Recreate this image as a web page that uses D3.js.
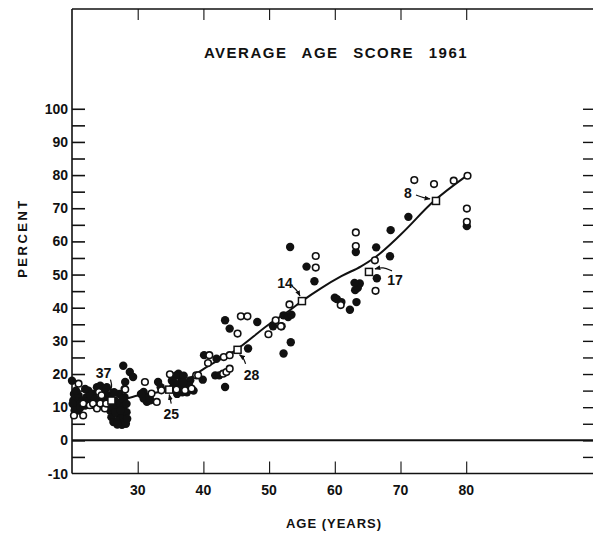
<!DOCTYPE html>
<html lang="en">
<head>
<meta charset="UTF-8">
<title>Average Age Score 1961</title>
<script src="https://d3js.org/d3.v7.min.js"></script>
<style>
    body { margin: 0; background: #fff; }
    svg { display: block; }
    text { font-family: "Liberation Sans", Arial, sans-serif; font-weight: bold; fill: #111; }
</style>
</head>
<body>
<svg width="593" height="535"></svg>
<script>
    // values
    const yTicks = [-10, 0, 10, 20, 30, 40, 50, 60, 70, 80, 90, 100];
    const xTicks = [30, 40, 50, 60, 70, 80];

    const curveAges = [20, 25, 28, 30, 35, 37, 40, 45, 50, 53, 55, 58, 61, 64, 66, 70, 75, 80.2];
    const curveValues = [11, 11.8, 12.5, 13.5, 15.5, 17.5, 21.5, 27.3, 35, 39, 42, 46, 49.5, 52.5, 55, 62, 72, 80];

    const filledPoints = [
        [20, 18], [20.2, 12], [20.3, 14], [20.5, 10], [20.8, 12.5], [21, 9], [21.2, 11], [21, 13.5],
        [21.6, 12], [22, 10.5], [22.2, 13], [22.5, 15], [23, 12], [23.2, 14], [23.5, 10.5], [23.8, 16],
        [24.3, 16.5], [24.8, 15.5], [25.3, 16], [25.8, 13.5], [25.8, 9], [26, 7], [26.3, 5.5], [26.5, 12],
        [26.8, 10], [27, 8], [27, 6], [27.3, 11], [27.6, 4.7], [27.8, 10], [27.8, 7], [28, 13], [28.1, 17.6],
        [27.8, 22.5], [28.8, 20.6], [29.3, 19.1], [28.3, 8.5], [28.2, 5], [28, 15.5], [27.2, 14],
        [20.1, 11], [20.4, 9], [21.3, 10], [22.3, 11.8], [22.8, 13.5], [23.5, 12.5], [24, 15.5],
        [24.6, 12.5], [25.5, 12.5], [26.2, 10], [26.6, 8.5], [27.4, 9], [27.7, 12.5], [28.3, 11],
        [28.4, 6.5], [26.9, 4.8], [26.4, 14.5], [25, 14.5], [22, 15.5], [20.6, 15],
        [30.9, 14.6], [31.4, 11.6], [30.9, 12.6], [31.9, 12.1], [33.1, 17.6], [33.5, 16], [35.4, 16.1],
        [36.2, 20.1], [36.7, 18.1], [37.2, 16.1], [38, 18.1], [36, 14], [36.5, 15.5], [37.5, 14.5],
        [38.5, 15], [35.8, 19.5], [37, 19.5], [30.5, 14], [31.8, 13], [35.2, 18], [36.4, 17],
        [37.8, 16.5], [36.9, 17.5], [35.6, 17.2], [36.8, 14.5],
        [39.9, 18.3], [40.1, 25.7], [42, 24.6], [41.8, 19.6], [42.4, 19.6], [43.3, 16.1], [43.3, 36.2],
        [44, 33.7], [46.8, 27.7], [48.2, 35.7], [50.6, 34.4],
        [51.9, 34.4], [52.2, 37.7], [52.9, 37.2], [53.4, 37.9], [52.2, 26.2], [53.3, 29.6], [53.2, 58.3],
        [55.7, 52.4], [56.9, 48], [60, 43], [60.3, 42.6], [61, 41.7],
        [62.3, 39.4], [63.3, 41.7], [63.1, 45.3], [63.8, 47.3], [63.5, 46], [63, 47.5], [66.4, 48.9],
        [66.3, 58.2], [63.2, 56.8], [68.4, 55.5], [68.5, 63.4], [71.2, 67.4], [80.1, 64.6]
    ];

    const openPoints = [
        [20.3, 7.5], [21.7, 7.5], [21, 17.1], [21.7, 11.1], [22.7, 10.6], [23.2, 11.1], [23.8, 9.6],
        [24.1, 14.6], [24.3, 11.1], [25, 9.6], [25.2, 11.1], [24.5, 13.6], [28.1, 15.3],
        [31.1, 17.6], [32.1, 14.1], [32.9, 11.6], [33.6, 15.1], [34.9, 19.9], [35.9, 15.3], [37.2, 15.1],
        [38.2, 15.6], [38.9, 19.6],
        [39.2, 19.6], [40.7, 23.3], [40.9, 25.7], [43.1, 25.1], [44, 25.7], [43, 20.1], [43.5, 20.6],
        [44, 21.6], [45.2, 32.2], [45.7, 37.4], [46.7, 37.4], [49.9, 32], [51, 36.2], [51.8, 34.4],
        [53.1, 41], [57.1, 55.6], [57.1, 52.1], [60.9, 40.8], [63.2, 62.7], [63.2, 58.6], [66.1, 54.3],
        [66.2, 45.1], [72.1, 78.5], [75.1, 77.3], [78.1, 78.3], [80.2, 79.8], [80.1, 69.9], [80.1, 65.9]
    ];

    const meanAges = [26, 34.8, 45.2, 55, 65.2, 75.4];
    const meanValues = [12, 15.3, 27.3, 42, 50.8, 72.2];
    const meanLabels = ["37", "25", "28", "14", "17", "8"];

    // layout of the annotation labels (pixel offsets from each square)
    const labelLayout = [
        { dx: -8, dy: -28, arrow: [[-1, -21], [1, -14], [-2, -7]] },
        { dx: 2, dy: 24, arrow: [[2, 14], [0, 5]] },
        { dx: 14, dy: 25, arrow: [[8, 14], [6, 8], [2, 5]] },
        { dx: -17, dy: -18, arrow: [[-11, -16], [-5, -11], [-2, -5]] },
        { dx: 26, dy: 8, arrow: [[23, -1], [14, -5], [6, -3]] },
        { dx: -28, dy: -8, arrow: [[-20, -6], [-12, -3], [-6, -2]] }
    ];

    const svg = d3.select("svg");
    const W = 593;
    const x = d3.scaleLinear().domain([20, 100]).range([72, 597.6]);
    const y = d3.scaleLinear().domain([-10, 130]).range([473.5, 9.3]);
    const ink = "#111";

    // frame: left, top, bottom
    svg.append("line").attr("x1", 72).attr("x2", 72).attr("y1", 9).attr("y2", y(-10))
        .attr("stroke", ink).attr("stroke-width", 1.6);
    svg.append("line").attr("x1", 72).attr("x2", W).attr("y1", 9).attr("y2", 9)
        .attr("stroke", ink).attr("stroke-width", 1.4);
    svg.append("line").attr("x1", 72).attr("x2", W).attr("y1", y(-10)).attr("y2", y(-10))
        .attr("stroke", ink).attr("stroke-width", 1.4);
    // zero line
    svg.append("line").attr("x1", 72).attr("x2", W).attr("y1", y(0)).attr("y2", y(0))
        .attr("stroke", ink).attr("stroke-width", 2);

    // left axis (ticks every 5, labels every 10)
    const leftAxis = d3.axisRight(y).tickValues(d3.range(-5, 101, 5)).tickSize(13).tickFormat("");
    svg.append("g").attr("transform", "translate(72,0)").call(leftAxis)
        .call(g => g.select(".domain").remove())
        .call(g => g.selectAll("line").attr("stroke", ink).attr("stroke-width", 1.6));
    svg.append("g").selectAll("text").data(yTicks).join("text")
        .attr("x", 68).attr("y", d => y(d)).attr("dy", "0.36em")
        .attr("text-anchor", "end").attr("font-size", 14)
        .text(d => d === -10 ? "-10" : d);

    // right side ticks
    const rightAxis = d3.axisLeft(y).tickValues(d3.range(-5, 101, 5)).tickSize(10).tickFormat("");
    svg.append("g").attr("transform", `translate(${W},0)`).call(rightAxis)
        .call(g => g.select(".domain").remove())
        .call(g => g.selectAll("line").attr("stroke", ink).attr("stroke-width", 1.4));

    // bottom ticks and labels
    const bottomAxis = d3.axisTop(x).tickValues(xTicks).tickSize(12).tickFormat("");
    svg.append("g").attr("transform", `translate(0,${y(-10)})`).call(bottomAxis)
        .call(g => g.select(".domain").remove())
        .call(g => g.selectAll("line").attr("stroke", ink).attr("stroke-width", 1.1));
    svg.append("g").selectAll("text").data(xTicks).join("text")
        .attr("x", d => x(d)).attr("y", 495).attr("text-anchor", "middle")
        .attr("font-size", 14).text(d => d);

    // top ticks
    const topAxis = d3.axisBottom(x).tickValues(xTicks).tickSize(11).tickFormat("");
    svg.append("g").attr("transform", "translate(0,9)").call(topAxis)
        .call(g => g.select(".domain").remove())
        .call(g => g.selectAll("line").attr("stroke", ink).attr("stroke-width", 1.1));

    // titles
    svg.append("text").attr("x", 336).attr("y", 58).attr("text-anchor", "middle")
        .attr("font-size", 15).attr("letter-spacing", 1.5).attr("word-spacing", 9)
        .text("AVERAGE AGE SCORE 1961");
    svg.append("text").attr("x", 334).attr("y", 528).attr("text-anchor", "middle")
        .attr("font-size", 13).attr("letter-spacing", 1)
        .text("AGE (YEARS)");
    svg.append("text").attr("transform", "translate(27,238) rotate(-90)")
        .attr("text-anchor", "middle").attr("font-size", 13).attr("letter-spacing", 2.5)
        .text("PERCENT");

    // average curve
    const line = d3.line().x(d => x(d[0])).y(d => y(d[1])).curve(d3.curveMonotoneX);
    svg.append("path").datum(d3.zip(curveAges, curveValues))
        .attr("d", line).attr("fill", "none").attr("stroke", ink).attr("stroke-width", 2);

    // points
    svg.append("g").selectAll("circle").data(filledPoints).join("circle")
        .attr("cx", d => x(d[0])).attr("cy", d => y(d[1])).attr("r", 4.2)
        .attr("fill", ink);
    svg.append("g").selectAll("circle").data(openPoints).join("circle")
        .attr("cx", d => x(d[0])).attr("cy", d => y(d[1])).attr("r", 3.3)
        .attr("fill", "#fff").attr("stroke", ink).attr("stroke-width", 1.6);

    // group means (open squares) with labels
    svg.append("defs").append("marker").attr("id", "head")
        .attr("viewBox", "0 0 10 10").attr("refX", 9).attr("refY", 5)
        .attr("markerWidth", 5).attr("markerHeight", 5).attr("orient", "auto")
        .append("path").attr("d", "M0,1L10,5L0,9Z").attr("fill", ink);

    const means = meanAges.map((a, i) => ({ sx: x(a), sy: y(meanValues[i]), label: meanLabels[i], lay: labelLayout[i] }));
    const arrow = d3.line().curve(d3.curveBasis);
    const mg = svg.append("g");
    means.forEach(m => {
        mg.append("path")
            .attr("d", arrow(m.lay.arrow.map(p => [m.sx + p[0], m.sy + p[1]])))
            .attr("fill", "none").attr("stroke", ink).attr("stroke-width", 1.2)
            .attr("marker-end", "url(#head)");
        mg.append("rect").attr("x", m.sx - 3.5).attr("y", m.sy - 3.5)
            .attr("width", 7).attr("height", 7)
            .attr("fill", "#fff").attr("stroke", ink).attr("stroke-width", 1.5);
        mg.append("text").attr("x", m.sx + m.lay.dx).attr("y", m.sy + m.lay.dy)
            .attr("dy", "0.36em").attr("text-anchor", "middle").attr("font-size", 14)
            .text(m.label);
    });
</script>
</body>
</html>
